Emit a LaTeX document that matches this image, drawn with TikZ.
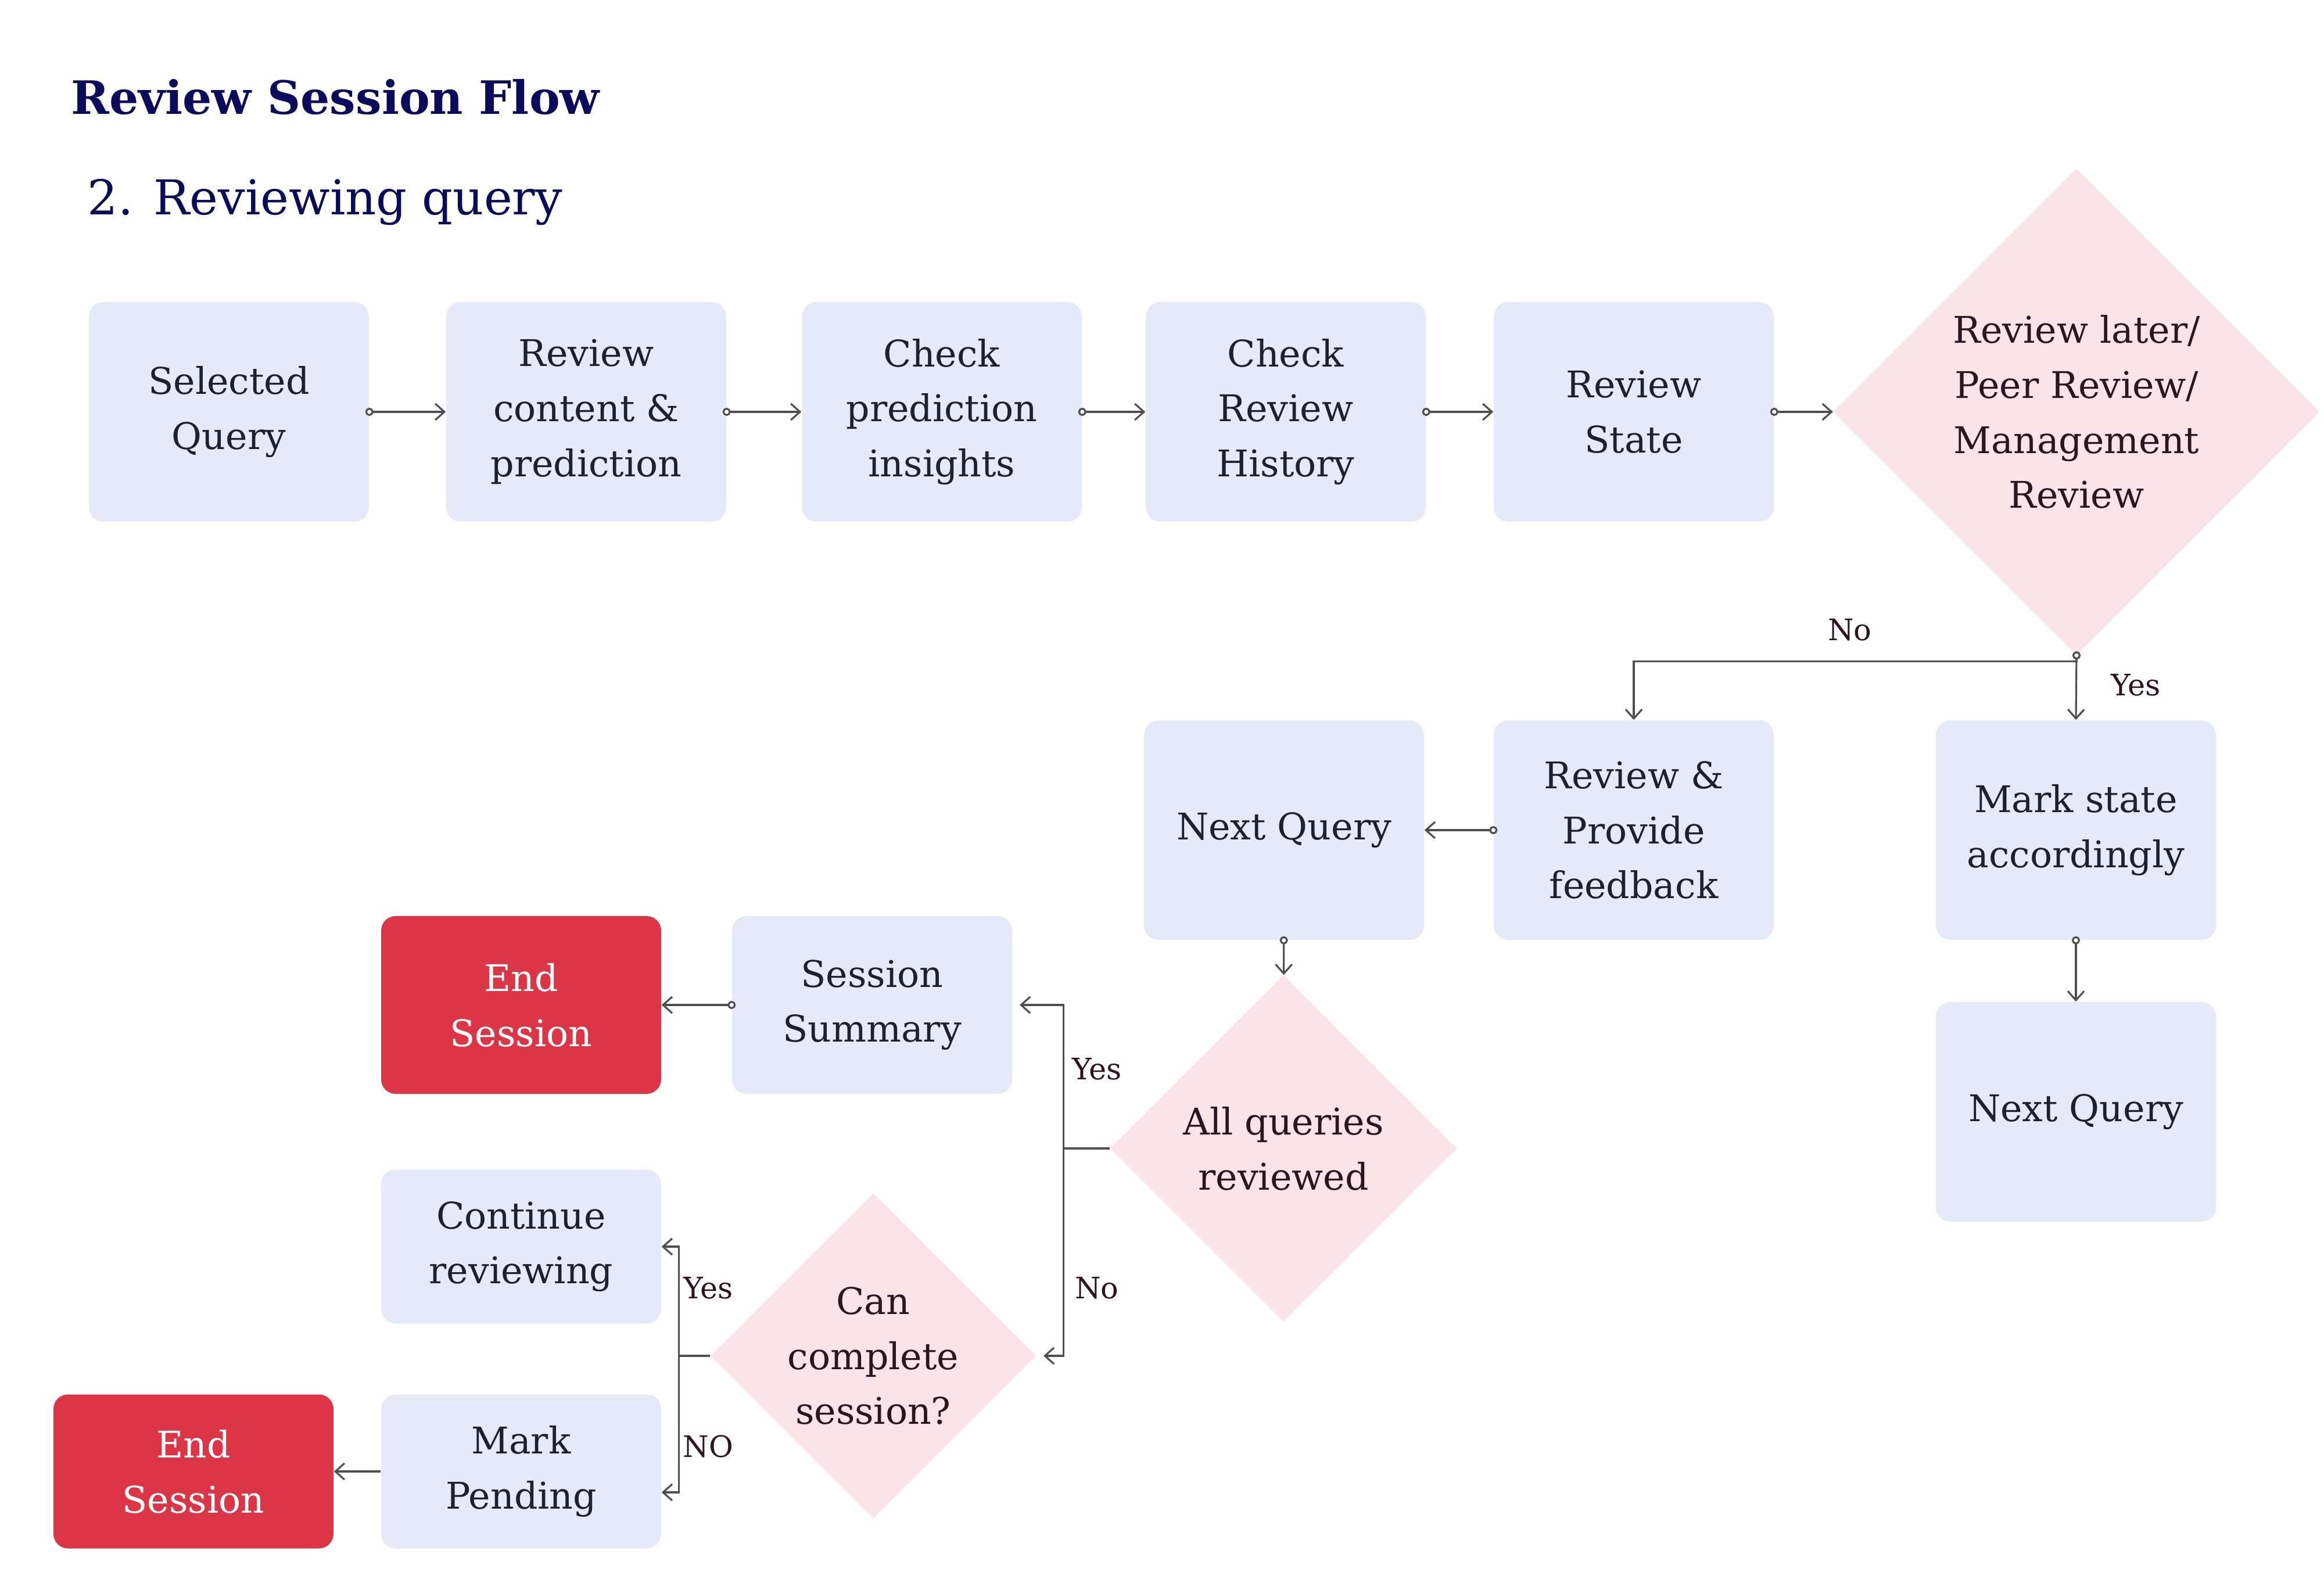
\documentclass[tikz,border=0pt]{standalone}
\usepackage{fontspec}
\setmainfont{DejaVu Serif}
\usetikzlibrary{arrows.meta,shapes.geometric}

\definecolor{boxfill}{HTML}{E6E9F7}
\definecolor{decfill}{HTML}{FAE3E9}
\definecolor{endred}{HTML}{DC3545}
\definecolor{titlenavy}{HTML}{0B0B5C}
\definecolor{boxtext}{HTML}{1B2033}
\definecolor{dectext}{HTML}{2E1420}
\definecolor{linegray}{HTML}{4F4F4F}

\tikzset{
    qbox/.style={rectangle, rounded corners=0.25cm, fill=boxfill, text=boxtext,
        minimum width=4.82cm, minimum height=3.78cm, inner sep=0pt, align=center,
        font=\fontsize{18}{27}\selectfont},
    endbox/.style={qbox, fill=endred, text=white},
    choice/.style={diamond, fill=decfill, text=dectext, inner sep=0pt, align=center,
        font=\fontsize{18}{27}\selectfont},
    flow/.style={draw=linegray, line width=0.9pt, shorten <=-2pt,
        {Circle[length=4pt,width=4pt,fill=white]}-{Straight Barb[length=4.5pt,width=8pt]}},
    plainflow/.style={draw=linegray, line width=0.9pt,
        -{Straight Barb[length=4.5pt,width=8pt]}},
    lbl/.style={text=dectext, font=\fontsize{14.5}{16}\selectfont}
}

\begin{document}
\begin{tikzpicture}
    \fill[white] (0,0) rectangle (40,27.12);
    \useasboundingbox (0,0) rectangle (40,27.12);

    % headings
    \node[anchor=base west, inner sep=0pt, text=titlenavy, font=\fontsize{22.5}{26}\selectfont\bfseries] (title) at (1.22,25.15) {Review Session Flow};
    \node[anchor=base west, inner sep=0pt, text=titlenavy, font=\fontsize{23.5}{27}\selectfont] (subtitle) at (1.5,23.42) {2. Reviewing query};

    % top row
    \node[qbox] (selected) at (3.94,20.03) {Selected\\Query};
    \node[qbox] (content) at (10.09,20.03) {Review\\content \&\\prediction};
    \node[qbox] (insights) at (16.21,20.03) {Check\\prediction\\insights};
    \node[qbox] (history) at (22.13,20.03) {Check\\Review\\History};
    \node[qbox] (state) at (28.12,20.03) {Review\\State};
    \node[choice, minimum width=8.37cm, minimum height=8.37cm] (later) at (35.74,20.03) {Review later/\\Peer Review/\\Management\\Review};

    % middle row
    \node[qbox] (nextq) at (22.10,12.83) {Next Query};
    \node[qbox] (feedback) at (28.12,12.83) {Review \&\\Provide\\feedback};
    \node[qbox] (markstate) at (35.73,12.83) {Mark state\\accordingly};
    \node[qbox] (nextqb) at (35.73,7.98) {Next Query};

    % lower part
    \node[choice, minimum width=5.97cm, minimum height=5.97cm] (allrev) at (22.09,7.35) {All queries\\reviewed};
    \node[qbox, minimum height=3.06cm] (summary) at (15.01,9.82) {Session\\Summary};
    \node[endbox, minimum height=3.06cm] (endone) at (8.97,9.82) {End\\Session};
    \node[choice, minimum width=5.6cm, minimum height=5.6cm] (canfinish) at (15.03,3.78) {Can\\complete\\session?};
    \node[qbox, minimum height=2.65cm] (continue) at (8.97,5.66) {Continue\\reviewing};
    \node[qbox, minimum height=2.65cm] (pending) at (8.97,1.79) {Mark\\Pending};
    \node[endbox, minimum height=2.65cm] (endtwo) at (3.33,1.79) {End\\Session};

    \draw[flow] (selected) -- (content);
    \draw[flow] (content) -- (insights);
    \draw[flow] (insights) -- (history);
    \draw[flow] (history) -- (state);
    \draw[flow] (state) -- (later);

    \draw[flow] (later.south) -- ++(0,-0.1) -| (feedback.north);
    \draw[flow] (later.south) -- (markstate.north);
    \node[lbl] (nolater) at (31.84,16.28) {No};
    \node[lbl] (yeslater) at (36.76,15.33) {Yes};

    \draw[flow] (feedback) -- (nextq);
    \draw[flow] (markstate) -- (nextqb);
    \draw[flow] (nextq) -- (allrev);

    \draw[plainflow, shorten >=3.5pt] (allrev.west) -- ++(-0.79,0) |- (summary.east);
    \draw[plainflow, shorten >=3.5pt] (allrev.west) -- ++(-0.79,0) |- (canfinish.east);
    \node[lbl] (yesall) at (18.88,8.72) {Yes};
    \node[lbl] (noall) at (18.88,4.95) {No};

    \draw[flow] (summary) -- (endone);

    \draw[plainflow] (canfinish.west) -- ++(-0.54,0) |- (continue.east);
    \draw[plainflow] (canfinish.west) -- ++(-0.54,0) |- ([yshift=-0.36cm]pending.east);
    \node[lbl] (yescan) at (12.19,4.95) {Yes};
    \node[lbl] (nocan) at (12.19,2.22) {NO};

    \draw[plainflow] (pending) -- (endtwo);
\end{tikzpicture}
\end{document}
